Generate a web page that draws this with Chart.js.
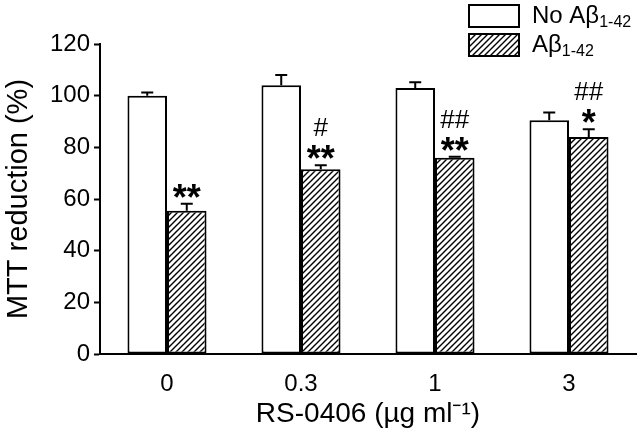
<!DOCTYPE html>
<html>
<head>
<meta charset="utf-8">
<script src="https://cdn.jsdelivr.net/npm/chart.js@4.4.1/dist/chart.umd.min.js"></script>
<style>
    html, body { margin: 0; padding: 0; background: #fff; }
    #wrap { width: 640px; height: 439px; position: relative; }
</style>
</head>
<body>
<div id="wrap"><canvas id="mttChart"></canvas></div>
<script>
// Данные графика
const categories = ['0', '0.3', '1', '3'];
const noAbeta = [100, 104, 103, 90.5];
const noAbetaErr = [1.2, 4, 2.2, 3];
const abeta = [55.5, 71.5, 76, 84];
const abetaErr = [2.7, 1.6, 0.4, 3];
const stars = ['**', '**', '**', '*'];
const hashes = ['', '#', '##', '##'];
const yTicks = [0, 20, 40, 60, 80, 100, 120];

Chart.defaults.font.family = '"Liberation Sans", Arial, sans-serif';
Chart.defaults.color = '#000';

// штриховка для второй серии
function makeHatch() {
    const c = document.createElement('canvas');
    c.width = 6;
    c.height = 6;
    const g = c.getContext('2d');
    g.fillStyle = '#fff';
    g.fillRect(0, 0, 6, 6);
    g.strokeStyle = '#000';
    g.lineWidth = 1.4;
    g.beginPath();
    g.moveTo(0, 6); g.lineTo(6, 0);
    g.moveTo(-1, 1); g.lineTo(1, -1);
    g.moveTo(5, 7); g.lineTo(7, 5);
    g.stroke();
    return g.createPattern(c, 'repeat');
}

const hatch = makeHatch();
const errors = [noAbetaErr, abetaErr];

const errorBars = {
    id: 'errorBars',
    afterDatasetsDraw(chart) {
        const ctx = chart.ctx;
        const y = chart.scales.y;
        ctx.save();
        ctx.strokeStyle = '#000';
        ctx.lineWidth = 2;
        chart.data.datasets.forEach((ds, di) => {
            const meta = chart.getDatasetMeta(di);
            meta.data.forEach((bar, i) => {
                const top = y.getPixelForValue(ds.data[i]);
                const end = y.getPixelForValue(ds.data[i] + errors[di][i]);
                ctx.beginPath();
                ctx.moveTo(bar.x, top);
                ctx.lineTo(bar.x, end);
                ctx.moveTo(bar.x - 6, end);
                ctx.lineTo(bar.x + 6, end);
                ctx.stroke();
            });
        });
        ctx.restore();
    }
};

const marks = {
    id: 'marks',
    afterDatasetsDraw(chart) {
        const ctx = chart.ctx;
        const y = chart.scales.y;
        const meta = chart.getDatasetMeta(1);
        ctx.save();
        ctx.fillStyle = '#000';
        ctx.textAlign = 'center';
        ctx.textBaseline = 'middle';
        meta.data.forEach((bar, i) => {
            const end = y.getPixelForValue(abeta[i] + abetaErr[i]);
            ctx.font = 'bold 36px "Liberation Sans", Arial, sans-serif';
            ctx.fillText(stars[i], bar.x, end - 4);
            if (hashes[i]) {
                ctx.font = '26px "Liberation Sans", Arial, sans-serif';
                ctx.fillText(hashes[i], bar.x, end - 36);
            }
        });
        ctx.restore();
    }
};

function drawLabel(ctx, main, sub, x, y) {
    ctx.font = '24px "Liberation Sans", Arial, sans-serif';
    ctx.fillText(main, x, y);
    const w = ctx.measureText(main).width;
    ctx.font = '16px "Liberation Sans", Arial, sans-serif';
    ctx.fillText(sub, x + w, y + 7);
}

const boxLegend = {
    id: 'boxLegend',
    afterDraw(chart) {
        const ctx = chart.ctx;
        ctx.save();
        ctx.lineWidth = 2;
        ctx.strokeStyle = '#000';
        ctx.fillStyle = '#fff';
        ctx.fillRect(469, 5, 50, 22);
        ctx.strokeRect(469, 5, 50, 22);
        ctx.fillStyle = hatch;
        ctx.fillRect(469, 34, 50, 22);
        ctx.strokeRect(469, 34, 50, 22);
        ctx.fillStyle = '#000';
        ctx.textAlign = 'left';
        ctx.textBaseline = 'middle';
        drawLabel(ctx, 'No A\u03b2', '1-42', 532, 16);
        drawLabel(ctx, 'A\u03b2', '1-42', 532, 45);
        ctx.restore();
    }
};

new Chart(document.getElementById('mttChart'), {
    type: 'bar',
    data: {
        labels: categories,
        datasets: [{
            label: 'No A\u03b21-42',
            data: noAbeta,
            backgroundColor: '#fff',
            borderColor: '#000',
            borderWidth: 2,
            borderSkipped: false
        }, {
            label: 'A\u03b21-42',
            data: abeta,
            backgroundColor: hatch,
            borderColor: '#000',
            borderWidth: 2,
            borderSkipped: false
        }]
    },
    options: {
        responsive: true,
        maintainAspectRatio: false,
        animation: false,
        layout: {
            padding: { top: 44, right: 4, left: 0, bottom: 0 }
        },
        datasets: {
            bar: {
                categoryPercentage: 0.59,
                barPercentage: 1.0
            }
        },
        plugins: {
            legend: { display: false },
            tooltip: { enabled: false }
        },
        scales: {
            x: {
                grid: { display: false },
                border: { color: '#000', width: 2 },
                ticks: {
                    padding: 8,
                    font: { size: 24 }
                },
                title: {
                    display: true,
                    text: 'RS-0406 (\u00b5g ml\u207b\u00b9)',
                    font: { size: 28 },
                    padding: { top: 0, bottom: 8 }
                },
                afterFit(scale) { scale.height = 85; }
            },
            y: {
                min: 0,
                max: 120,
                afterBuildTicks(scale) {
                    scale.ticks = yTicks.map(v => ({ value: v }));
                },
                grid: {
                    drawOnChartArea: false,
                    drawTicks: true,
                    tickLength: 6,
                    tickWidth: 2,
                    color: '#000'
                },
                border: { color: '#000', width: 2 },
                ticks: {
                    padding: 4,
                    font: { size: 24 }
                },
                title: {
                    display: true,
                    text: 'MTT reduction (%)',
                    font: { size: 29 },
                    padding: { top: 2, bottom: 0 }
                },
                afterFit(scale) { scale.width = 100; }
            }
        }
    },
    plugins: [errorBars, marks, boxLegend]
});
</script>
</body>
</html>
